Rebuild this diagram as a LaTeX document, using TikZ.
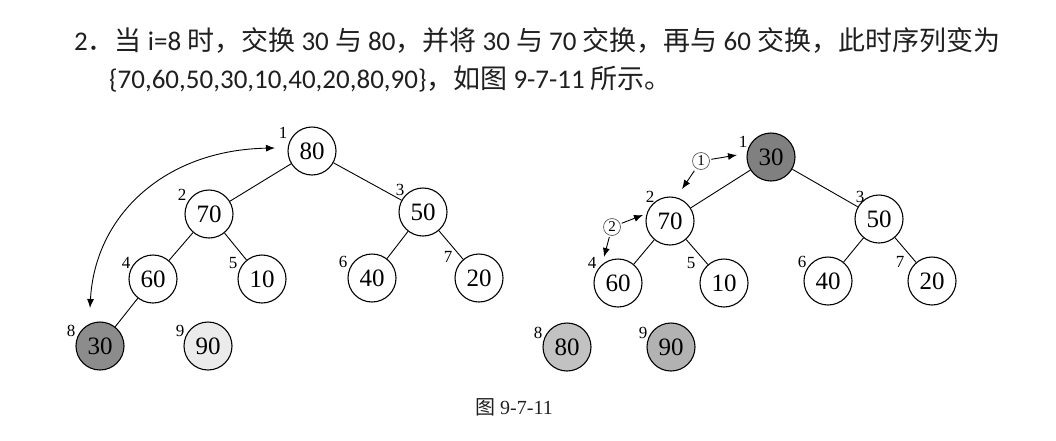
\documentclass[tikz,border=0pt]{standalone}
\usepackage{fontspec}
\setmainfont{Liberation Serif}
\newfontfamily\cjk{Noto Sans CJK SC}
\newfontfamily\lat{Carlito}
\newcommand\zh[1]{{\cjk #1}}
\usetikzlibrary{arrows.meta}
\definecolor{txtc}{gray}{0.12}
\definecolor{shadeA}{gray}{0.55}
\definecolor{shadeB}{gray}{0.92}
\definecolor{shadeC}{gray}{0.50}
\definecolor{shadeD}{gray}{0.76}
\definecolor{shadeE}{gray}{0.70}
\begin{document}
\begin{tikzpicture}[x=1pt,y=-1pt,
  hn/.style={circle,draw,line width=1.1pt,minimum size=48pt,inner sep=0pt,font=\fontsize{25}{25}\selectfont},
  idx/.style={inner sep=0pt,font=\fontsize{17}{17}\selectfont},
  edge/.style={line width=0.9pt},
  arr/.style={line width=0.9pt,-{Latex[length=9pt,width=7pt]}},
  darr/.style={line width=0.9pt,{Latex[length=9pt,width=7pt]}-{Latex[length=9pt,width=7pt]}},
  cnum/.style={circle,draw=black!65,line width=0.7pt,minimum size=17pt,inner sep=0pt,font=\fontsize{15}{15}\selectfont},
  txt/.style={anchor=west,inner sep=0pt,text=txtc,font=\fontsize{27}{27}\lat}]
\useasboundingbox (0,0) rectangle (1056,440);

% text
\node[txt] (t1) at (74,40) {2\zh{．当} i=8 \zh{时，交换} 30 \zh{与} 80\zh{，并将} 30 \zh{与} 70 \zh{交换，再与} 60 \zh{交换，此时序列变为}};
\node[txt] (t2) at (109,79) {\{70,60,50,30,10,40,20,80,90\}\zh{，如图} 9-7-11 \zh{所示。}};
\node[inner sep=0pt,text=txtc,font=\fontsize{20}{20}\selectfont] (cap) at (514,407) {{\cjk 图} 9-7-11};

% left tree
\node[hn] (L1) at (312,151) {80};
\node[hn] (L2) at (209,214) {70};
\node[hn] (L3) at (423,212) {50};
\node[hn] (L4) at (153,279) {60};
\node[hn] (L5) at (262,279) {10};
\node[hn] (L6) at (372,278) {40};
\node[hn] (L7) at (479,278) {20};
\node[hn,fill=shadeA] (L8) at (100,346) {30};
\node[hn,fill=shadeB] (L9) at (208,346) {90};
\foreach \n/\t/\dx/\dy in {L1/1/-29/-18,L2/2/-27/-19,L3/3/-23/-22,L4/4/-27/-16,L5/5/-29/-16,L6/6/-29/-16,L7/7/-31/-21,L8/8/-29/-15,L9/9/-28/-15}
  \node[idx] (i\n) at ([shift={(\dx,\dy)}]\n.center) {\t};
\draw[edge] (L1) -- (L2);
\draw[edge] (L1) -- (L3);
\draw[edge] (L2) -- (L4);
\draw[edge] (L2) -- (L5);
\draw[edge] (L3) -- (L6);
\draw[edge] (L3) -- (L7);
\draw[edge] (L4) -- (L8);
\coordinate (ca) at (275,148);
\coordinate (cb) at (90,308);
\draw[darr] (cb) .. controls (95,215) and (165,150) .. (ca);

% right tree
\node[hn,fill=shadeC] (R1) at (771,157) {30};
\node[hn] (R2) at (670,221) {70};
\node[hn] (R3) at (879,219) {50};
\node[hn] (R4) at (618,283) {60};
\node[hn] (R5) at (724,283) {10};
\node[hn] (R6) at (828,281) {40};
\node[hn] (R7) at (932,281) {20};
\node[hn,fill=shadeD] (R8) at (567,347) {80};
\node[hn,fill=shadeE] (R9) at (671,347) {90};
\foreach \n/\t/\dx/\dy in {R1/1/-28/-15,R2/2/-20/-24,R3/3/-19/-22,R4/4/-26/-20,R5/5/-33/-20,R6/6/-26/-19,R7/7/-32/-19,R8/8/-29/-14,R9/9/-28/-14}
  \node[idx] (i\n) at ([shift={(\dx,\dy)}]\n.center) {\t};
\draw[edge] (R1) -- (R2);
\draw[edge] (R1) -- (R3);
\draw[edge] (R2) -- (R4);
\draw[edge] (R2) -- (R5);
\draw[edge] (R3) -- (R6);
\draw[edge] (R3) -- (R7);

% circled step markers
\node[cnum] (c1) at (701,161) {1};
\node[cnum] (c2) at (612,227) {2};
\coordinate (c1t) at (737,155);
\coordinate (c1e) at (682,189);
\coordinate (c2t) at (643,215);
\coordinate (c2d) at (604,257);
\draw[arr,shorten <=1.5pt] (c1) -- (c1t);
\draw[arr,shorten <=3pt] (c1) -- (c1e);
\draw[arr,shorten <=1.5pt] (c2) -- (c2t);
\draw[arr,shorten <=1.5pt] (c2) -- (c2d);
\end{tikzpicture}
\end{document}
